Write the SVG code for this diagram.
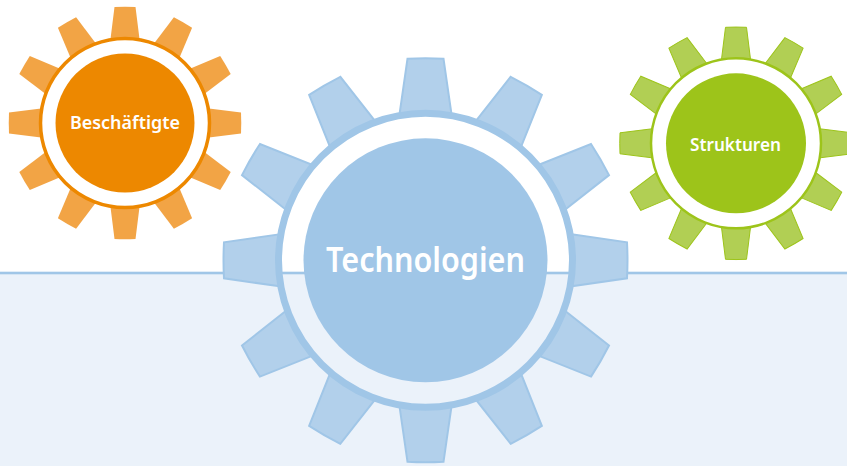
<svg xmlns="http://www.w3.org/2000/svg" width="847" height="466" viewBox="0 0 847 466">
<style>
text{font-family:"Noto Sans","Open Sans",sans-serif;fill:#fff;text-anchor:middle;font-weight:600}
.or{fill:#f2a445}.orl{fill:none;stroke:#ed8800;stroke-width:3.500}.ord{fill:#ed8800}
.gr{fill:#b1cf54;stroke:#9dc41a;stroke-width:1}.grl{fill:none;stroke:#9dc41a;stroke-width:2.500}.grd{fill:#9dc41a}
.bl{fill:#b2d0eb;stroke:#a0c6e7;stroke-width:2}.bll{fill:none;stroke:#a0c6e7;stroke-width:7}.bld{fill:#a0c6e7}
</style>
<defs>
<path id="ts" d="M-14.500-84L-10.500-116Q0-116.500 10.500-116L14.500-84Z"/>
<path id="tb" d="M-26-146L-18-201.500Q0-202.500 18-201.500L26-146Z"/>
<g id="st"><use href="#ts"/><use href="#ts" transform="rotate(30)"/><use href="#ts" transform="rotate(60)"/><use href="#ts" transform="rotate(90)"/><use href="#ts" transform="rotate(120)"/><use href="#ts" transform="rotate(150)"/><use href="#ts" transform="rotate(180)"/><use href="#ts" transform="rotate(210)"/><use href="#ts" transform="rotate(240)"/><use href="#ts" transform="rotate(270)"/><use href="#ts" transform="rotate(300)"/><use href="#ts" transform="rotate(330)"/></g>
<g id="bt"><use href="#tb"/><use href="#tb" transform="rotate(30)"/><use href="#tb" transform="rotate(60)"/><use href="#tb" transform="rotate(90)"/><use href="#tb" transform="rotate(120)"/><use href="#tb" transform="rotate(150)"/><use href="#tb" transform="rotate(180)"/><use href="#tb" transform="rotate(210)"/><use href="#tb" transform="rotate(240)"/><use href="#tb" transform="rotate(270)"/><use href="#tb" transform="rotate(300)"/><use href="#tb" transform="rotate(330)"/></g>
</defs>
<rect width="847" height="466" fill="#fff"/>
<rect y="272" width="847" height="194" fill="#ebf2fa"/>
<rect y="271.700" width="847" height="2.600" fill="#a0c6e7"/>
<g id="connectors"/>
<g id="beschaeftigte" transform="translate(125 123)">
<use href="#st" class="or"/>
<circle r="84.500" fill="#fff"/><circle r="84.500" class="orl"/><circle r="69.500" class="ord"/>
<text y="6.300" font-size="18" textLength="110" lengthAdjust="spacingAndGlyphs">Beschäftigte</text>
</g>
<g id="strukturen" transform="translate(736 143.300)">
<use href="#st" class="gr"/>
<circle r="85" fill="#fff"/><circle r="85" class="grl"/><circle r="70" class="grd"/>
<text x="-0.500" y="7.400" font-size="18" textLength="91" lengthAdjust="spacingAndGlyphs">Strukturen</text>
</g>
<g id="technologien" transform="translate(425.500 260.300)">
<use href="#bt" class="bl"/>
<circle r="147" class="bll"/><circle r="122" class="bld"/>
<text y="11.400" font-size="34" textLength="199" lengthAdjust="spacingAndGlyphs">Technologien</text>
</g>
</svg>
